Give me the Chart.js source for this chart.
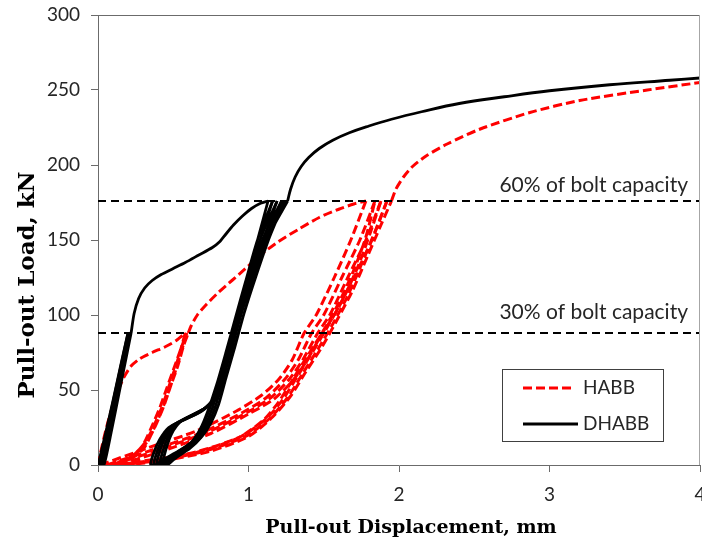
<!DOCTYPE html>
<html>
<head>
<meta charset="utf-8">
<script src="https://cdn.jsdelivr.net/npm/chart.js@4"></script>
<style>
  body { margin: 0; background: #fff; }
  #wrap { width: 702px; height: 542px; }
</style>
</head>
<body>
<div id="wrap"><canvas id="pullout" width="702" height="542"></canvas></div>
<script>
// tick labels
const xTicks = [0, 1, 2, 3, 4];
const yTicks = [0, 50, 100, 150, 200, 250, 300];

// bolt capacity levels, kN
const capacity30 = 88;
const capacity60 = 176;

/* DHABB (black) ---------------------------------*/
const dhabbStart = [[0,0],[0.05,21],[0.1,43],[0.15,66],[0.19,84],[0.2,88]];
const dhabbCycles30 = [
	[[0.2,88],[0.15,65],[0.1,42],[0.05,19],[0.01,0],[0.03,0],[0.08,24],[0.13,49],[0.18,74],[0.21,88]],
	[[0.21,88],[0.16,64],[0.11,40],[0.06,18],[0.02,0],[0.04,0],[0.09,23],[0.14,48],[0.19,73],[0.22,88]]
];
const dhabbToSixty = [[0.22,88],[0.24,101],[0.27,111],[0.31,118],[0.36,123],[0.42,127],[0.5,131],[0.58,135],
	[0.67,140],[0.76,145],[0.81,149],[0.85,154],[0.9,160],[0.96,166],[1.02,171],[1.08,174.5],[1.13,176]];
const dhabbCycles60 = [
	[[1.13,176],[1.06,150],[0.99,125],[0.92,100],[0.86,78],[0.8,56],[0.75,42],[0.67,35],[0.57,30],[0.47,25],[0.41,17],[0.37,8],[0.35,0],
	 [0.38,0],[0.44,4],[0.53,9],[0.62,15],[0.68,24],[0.73,36],[0.79,54],[0.85,75],[0.91,97],[0.98,122],[1.06,150],[1.16,176]],
	[[1.16,176],[1.08,151],[1.0,125],[0.93,100],[0.87,78],[0.81,56],[0.76,43],[0.69,36],[0.59,31],[0.49,26],[0.43,18],[0.39,8],[0.37,0],
	 [0.4,0],[0.46,4],[0.55,10],[0.63,16],[0.69,25],[0.74,37],[0.8,55],[0.86,76],[0.92,98],[0.99,123],[1.08,151],[1.19,176]],
	[[1.19,176],[1.1,151],[1.01,125],[0.94,100],[0.88,78],[0.82,57],[0.77,44],[0.7,37],[0.6,32],[0.51,27],[0.45,19],[0.41,9],[0.39,0],
	 [0.42,0],[0.48,5],[0.57,10],[0.65,17],[0.71,26],[0.76,38],[0.81,56],[0.87,77],[0.93,99],[1.0,124],[1.1,152],[1.22,176]],
	[[1.22,176],[1.12,152],[1.03,126],[0.95,100],[0.89,79],[0.83,58],[0.78,45],[0.71,38],[0.62,33],[0.53,28],[0.47,20],[0.43,9],[0.41,0],
	 [0.44,0],[0.5,5],[0.59,11],[0.67,18],[0.73,27],[0.78,39],[0.83,57],[0.89,78],[0.95,100],[1.02,125],[1.12,153],[1.24,176]],
	[[1.24,176],[1.14,152],[1.05,126],[0.97,101],[0.91,80],[0.85,59],[0.8,46],[0.73,39],[0.64,34],[0.55,29],[0.49,21],[0.45,10],[0.43,0],
	 [0.46,0],[0.52,5],[0.61,11],[0.69,19],[0.75,28],[0.8,40],[0.85,58],[0.91,79],[0.97,101],[1.04,126],[1.14,154],[1.26,176]]
];
const dhabbToFailure = [[1.26,176],[1.28,184],[1.31,192],[1.35,199],[1.4,205],[1.47,211],[1.56,216.5],[1.67,221.5],
	[1.8,226],[1.95,230.5],[2.15,235.5],[2.4,241],[2.7,245.5],[3.0,249.5],[3.4,253.5],[3.8,256.5],[4.0,258]];

/* HABB (red) ---------------------------------*/
const habbStart = [[0,0],[0.03,14],[0.07,30],[0.12,46],[0.17,58],[0.22,66],[0.28,71],[0.36,75],[0.45,79],[0.52,83],[0.58,88]];
const habbCycles30 = [
	[[0.58,88],[0.53,70],[0.48,55],[0.43,40],[0.38,28],[0.32,16],[0.24,7],[0.14,2],[0.06,0],
	 [0.1,0],[0.2,4],[0.29,12],[0.35,24],[0.41,38],[0.46,52],[0.51,66],[0.56,80],[0.59,88]],
	[[0.59,88],[0.54,71],[0.49,55],[0.44,40],[0.39,28],[0.33,16],[0.25,7],[0.15,2],[0.08,0],
	 [0.12,0],[0.22,4],[0.31,12],[0.37,24],[0.43,38],[0.48,52],[0.53,66],[0.57,80],[0.6,88]]
];
const habbToSixty = [[0.6,88],[0.62,93],[0.66,100],[0.72,107],[0.8,115],[0.89,123],[0.98,131],[1.08,140],
	[1.2,149],[1.33,157],[1.47,165],[1.6,170.5],[1.7,174],[1.78,176]];
const habbCycles60 = [
	[[1.78,176],[1.68,150],[1.57,125],[1.45,100],[1.37,88],[1.29,70],[1.2,57],[1.08,46],[0.92,36],[0.66,23],[0.32,11],[0.02,0],
	 [0.06,0],[0.32,3],[0.64,8],[0.93,18],[1.1,30],[1.2,42],[1.3,58],[1.4,74],[1.5,90],[1.6,108],[1.7,130],[1.78,152],[1.84,176]],
	[[1.84,176],[1.74,150],[1.62,125],[1.5,100],[1.42,88],[1.33,70],[1.24,57],[1.12,45],[0.96,35],[0.7,22],[0.36,10],[0.06,0],
	 [0.1,0],[0.36,3],[0.66,9],[0.95,19],[1.12,31],[1.23,44],[1.33,60],[1.43,76],[1.53,93],[1.63,111],[1.73,133],[1.81,155],[1.88,176]],
	[[1.88,176],[1.78,150],[1.66,125],[1.54,100],[1.46,88],[1.36,70],[1.27,57],[1.15,45],[0.99,35],[0.73,22],[0.4,10],[0.1,0],
	 [0.14,0],[0.4,3],[0.7,9],[0.98,19],[1.14,31],[1.26,45],[1.36,61],[1.46,77],[1.56,94],[1.66,113],[1.76,136],[1.85,158],[1.92,176]],
	[[1.92,176],[1.82,150],[1.7,125],[1.57,100],[1.49,88],[1.39,70],[1.3,57],[1.17,44],[1.0,34],[0.75,21],[0.42,9],[0.14,0],
	 [0.18,0],[0.44,3],[0.74,9],[1.0,19],[1.16,32],[1.28,46],[1.38,62],[1.49,79],[1.59,97],[1.69,116],[1.79,139],[1.88,160],[1.95,176]]
];
const habbToFailure = [[1.95,176],[1.98,184],[2.03,192],[2.09,199],[2.18,206],[2.32,214],[2.54,224],[2.87,235],
	[3.2,243],[3.65,250],[4.0,255]];

const RED = '#ff0000';
const BLACK = '#000000';
const AXIS = '#6b6b6b';
const TICK_FONT = { family: 'Lato', size: 19 };

function toPoints(arr) {
	return arr.map(function(p) { return { x: p[0], y: p[1] }; });
}

function habbSet(arr) {
	return { data: toPoints(arr), borderColor: RED, borderWidth: 3, borderDash: [9, 4],
		tension: 0.25, order: 2 };
}

function dhabbSet(arr, tension) {
	return { data: toPoints(arr), borderColor: BLACK, borderWidth: 2.8, tension: tension || 0.25, order: 1 };
}

function levelSet(y) {
	return { data: toPoints([[xTicks[0], y], [xTicks[xTicks.length - 1], y]]), borderColor: BLACK,
		borderWidth: 2, borderDash: [8, 5], tension: 0, order: 0 };
}

const datasets = [];
datasets.push(habbSet(habbStart));
habbCycles30.forEach(function(c) { datasets.push(habbSet(c)); });
datasets.push(habbSet(habbToSixty));
habbCycles60.forEach(function(c) { datasets.push(habbSet(c)); });
datasets.push(habbSet(habbToFailure));
datasets.push(dhabbSet(dhabbStart));
dhabbCycles30.forEach(function(c) { datasets.push(dhabbSet(c)); });
datasets.push(dhabbSet(dhabbToSixty));
dhabbCycles60.forEach(function(c) { datasets.push(dhabbSet(c)); });
datasets.push(dhabbSet(dhabbToFailure, 0.4));
datasets.push(levelSet(capacity60));
datasets.push(levelSet(capacity30));

// frame, titles, level notes and legend
const decorations = {
	id: 'decorations',
	afterDraw: function(chart) {
		const ctx = chart.ctx;
		const area = chart.chartArea;
		const xs = chart.scales.x;
		const ys = chart.scales.y;
		ctx.save();

		// top and right frame
		ctx.lineWidth = 1;
		ctx.strokeStyle = AXIS;
		ctx.beginPath();
		ctx.moveTo(area.left, area.top + 0.5);
		ctx.lineTo(area.right, area.top + 0.5);
		ctx.stroke();
		ctx.strokeStyle = '#a6a6a6';
		ctx.beginPath();
		ctx.moveTo(area.right - 0.5, area.top);
		ctx.lineTo(area.right - 0.5, area.bottom);
		ctx.stroke();

		// axis titles
		ctx.fillStyle = '#000';
		ctx.font = 'bold 19px "DejaVu Serif"';
		ctx.textAlign = 'center';
		ctx.textBaseline = 'middle';
		ctx.fillText('Pull-out Displacement, mm', 411, 528);
		ctx.save();
		ctx.translate(28, 285);
		ctx.rotate(-Math.PI / 2);
		ctx.font = 'bold 23px "DejaVu Serif"';
		ctx.fillText('Pull-out Load, kN', 0, 0);
		ctx.restore();

		// capacity notes
		ctx.fillStyle = '#262626';
		ctx.font = '21px Lato';
		ctx.textAlign = 'right';
		ctx.textBaseline = 'alphabetic';
		ctx.fillText('60% of bolt capacity', xs.getPixelForValue(4) - 12, ys.getPixelForValue(capacity60) - 9);
		ctx.fillText('30% of bolt capacity', xs.getPixelForValue(4) - 12, ys.getPixelForValue(capacity30) - 14);

		// legend
		const lx = 502, ly = 369, lw = 161, lh = 72;
		ctx.fillStyle = '#fff';
		ctx.fillRect(lx, ly, lw, lh);
		ctx.strokeStyle = '#404040';
		ctx.lineWidth = 1;
		ctx.strokeRect(lx + 0.5, ly + 0.5, lw, lh);

		ctx.lineWidth = 3;
		ctx.strokeStyle = RED;
		ctx.setLineDash([9, 4]);
		ctx.beginPath();
		ctx.moveTo(523, 388);
		ctx.lineTo(575, 388);
		ctx.stroke();
		ctx.setLineDash([]);
		ctx.strokeStyle = BLACK;
		ctx.beginPath();
		ctx.moveTo(523, 424);
		ctx.lineTo(578, 424);
		ctx.stroke();

		ctx.fillStyle = '#262626';
		ctx.font = '19px Lato';
		ctx.textAlign = 'left';
		ctx.textBaseline = 'middle';
		ctx.fillText('HABB', 583, 388);
		ctx.fillText('DHABB', 583, 424);
		ctx.restore();
	}
};

// keep the plot area where the reference has it, labels may hang over
function fixX(s) {
	s.height = 77;
	s.paddingLeft = 0;
	s.paddingRight = 0;
}
function fixY(s) {
	s.width = 98;
	s.paddingTop = 0;
	s.paddingBottom = 0;
}

new Chart(document.getElementById('pullout'), {
	type: 'scatter',
	data: { datasets: datasets },
	options: {
		responsive: false,
		animation: false,
		devicePixelRatio: 1,
		showLine: true,
		elements: { point: { radius: 0, hoverRadius: 0 } },
		layout: { padding: { top: 15, right: 2, left: 0, bottom: 0 } },
		plugins: { legend: { display: false }, tooltip: { enabled: false } },
		scales: {
			x: {
				type: 'linear', min: 0, max: 4,
				afterFit: fixX,
				afterBuildTicks: function(s) { s.ticks = xTicks.map(function(v) { return { value: v }; }); },
				ticks: { font: TICK_FONT, color: '#262626', padding: 11, maxRotation: 0 },
				grid: { drawOnChartArea: false, drawTicks: true, tickLength: 7, color: AXIS },
				border: { color: AXIS, width: 1 }
			},
			y: {
				type: 'linear', min: 0, max: 300,
				afterFit: fixY,
				afterBuildTicks: function(s) { s.ticks = yTicks.map(function(v) { return { value: v }; }); },
				ticks: { font: TICK_FONT, color: '#262626', padding: 11 },
				grid: { drawOnChartArea: false, drawTicks: true, tickLength: 7, color: AXIS },
				border: { color: AXIS, width: 1 }
			}
		}
	},
	plugins: [decorations]
});
</script>
</body>
</html>
